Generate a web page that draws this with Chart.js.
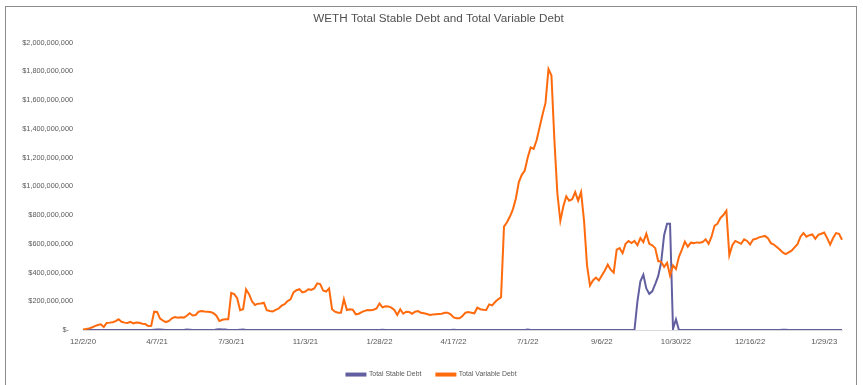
<!DOCTYPE html>
<html>
<head>
<meta charset="utf-8">
<script src="https://cdn.jsdelivr.net/npm/chart.js@4.4.1/dist/chart.umd.min.js"></script>
<style>
  html, body { margin: 0; padding: 0; background: #ffffff; }
  #wrap { position: relative; width: 863px; height: 385px; overflow: hidden; }
  #frame { position: absolute; left: 5px; top: 6px; width: 852px; height: 400px; border: 1px solid #8c8c8c; box-sizing: border-box; pointer-events: none; }
  canvas { position: absolute; left: 0; top: 0; }
</style>
</head>
<body>
<div id="wrap">
  <canvas id="c" width="863" height="388"></canvas>
  <div id="frame"></div>
</div>
<script>
// Tick labels shown on the x axis (one every 25 observations)
const tickLabels = ['12/2/20', '4/7/21', '7/30/21', '11/3/21', '1/28/22', '4/17/22', '7/1/22', '9/6/22', '10/30/22', '12/16/22', '1/29/23'];
const pointsPerTick = 25;

// Total Variable Debt, in millions of USD
const variableDebt = [
  5, 8, 12, 18, 28, 35, 40, 22, 50, 52,
  55, 62, 75, 58, 52, 50, 58, 47, 52, 51,
  44, 42, 28, 30, 128, 126, 80, 66, 56, 64,
  82, 91, 86, 90, 87, 100, 117, 102, 105, 128,
  133, 130, 128, 126, 118, 100, 63, 72, 75, 75,
  258, 250, 222, 138, 145, 284, 250, 200, 175, 184,
  185, 190, 138, 133, 130, 140, 150, 170, 180, 202,
  214, 262, 277, 284, 262, 268, 284, 280, 290, 325,
  320, 275, 268, 290, 145, 128, 121, 121, 215, 140,
  145, 142, 110, 114, 125, 134, 140, 138, 142, 150,
  185, 158, 166, 165, 156, 140, 105, 145, 114, 128,
  126, 114, 128, 132, 120, 117, 112, 105, 108, 110,
  112, 114, 120, 121, 110, 88, 82, 82, 98, 121,
  125, 121, 117, 156, 145, 142, 140, 179, 172, 195,
  214, 228, 720, 750, 790, 840, 915, 1030, 1080, 1110,
  1200, 1270, 1260, 1320, 1410, 1500, 1580, 1815, 1770, 1320,
  950, 760, 860, 930, 900, 910, 960, 900, 960, 760,
  450, 310, 345, 365, 345, 380, 415, 455, 420, 400,
  560, 570, 535, 600, 620, 605, 620, 590, 640, 612,
  670, 600, 590, 570, 480, 475, 440, 468, 380, 450,
  424, 510, 560, 615, 580, 608, 605, 610, 608, 612,
  632, 600, 650, 725, 740, 780, 800, 830, 520, 590,
  620, 610, 600, 632, 620, 595, 630, 635, 645, 650,
  655, 640, 605, 595, 578, 560, 540, 528, 540, 552,
  575, 598, 650, 675, 650, 660, 665, 635, 662, 670,
  678, 640, 595, 640, 675, 670, 628
];

// Total Stable Debt, in millions of USD
const stableDebt = [
  0, 0, 0, 0, 0, 0, 0, 0, 0, 0,
  0, 0, 0, 0, 0, 0, 0, 0, 0, 0,
  0, 0, 0, 0, 3, 4, 4, 3, 0, 0,
  0, 0, 0, 0, 0, 4, 3, 0, 0, 0,
  0, 0, 0, 0, 0, 5, 6, 5, 4, 0,
  0, 0, 0, 3, 4, 0, 0, 0, 0, 0,
  0, 0, 0, 0, 0, 0, 0, 0, 0, 0,
  0, 0, 0, 0, 0, 0, 0, 0, 0, 0,
  0, 0, 0, 0, 0, 0, 0, 0, 0, 0,
  0, 0, 0, 0, 0, 0, 0, 0, 0, 0,
  0, 3, 0, 0, 0, 0, 0, 0, 0, 0,
  0, 0, 0, 0, 0, 0, 0, 0, 0, 0,
  0, 0, 0, 0, 0, 3, 0, 0, 0, 0,
  0, 0, 0, 0, 0, 0, 0, 0, 0, 0,
  0, 0, 0, 0, 0, 0, 0, 0, 0, 0,
  4, 0, 0, 0, 0, 0, 0, 0, 0, 0,
  0, 0, 0, 0, 0, 0, 0, 0, 0, 0,
  0, 0, 0, 0, 0, 0, 0, 0, 0, 0,
  0, 0, 0, 0, 0, 0, 0, 200, 340, 385,
  290, 252, 270, 320, 375, 470, 660, 740, 740, 8,
  75, 0, 0, 0, 0, 0, 0, 0, 0, 0,
  0, 0, 0, 0, 0, 0, 0, 0, 0, 0,
  0, 0, 0, 0, 0, 0, 0, 0, 0, 0,
  0, 0, 0, 0, 0, 0, 3, 3, 0, 0,
  0, 0, 0, 0, 0, 0, 0, 0, 0, 0,
  0, 0, 0, 0, 0, 0, 0
];

const yTickStep = 200;   // millions
const yMax = 2000;       // millions

// Category labels: a date label at every tick position, blank otherwise
const categories = variableDebt.map((_, i) => (i % pointsPerTick === 0 && tickLabels[i / pointsPerTick]) ? tickLabels[i / pointsPerTick] : '');

const FONT = "'Liberation Sans', Arial, sans-serif";
const TEXT = '#595959';

function money(vM) {
  if (vM === 0) return '$-  ';
  const s = String(Math.round(vM * 1e6)).replace(/\B(?=(\d{3})+(?!\d))/g, ',');
  return '$' + s;
}

// Nudge the title block slightly right, as in the reference layout
const titleShift = {
  id: 'titleShift',
  afterLayout(chart) {
    const t = chart.titleBlock;
    if (t) { t.left += 14; }
  }
};

new Chart(document.getElementById('c'), {
  type: 'line',
  data: {
    labels: categories,
    datasets: [
      {
        label: 'Total Stable Debt',
        data: stableDebt,
        borderColor: '#625FA0',
        backgroundColor: '#625FA0',
        borderWidth: 2,
        pointRadius: 0,
        tension: 0,
        order: 1
      },
      {
        label: 'Total Variable Debt',
        data: variableDebt,
        borderColor: '#FF6A0D',
        backgroundColor: '#FF6A0D',
        borderWidth: 2,
        pointRadius: 0,
        tension: 0,
        order: 0
      }
    ]
  },
  plugins: [titleShift],
  options: {
    responsive: false,
    animation: false,
    layout: { padding: { left: 0, right: 0, top: 0, bottom: 0 } },
    plugins: {
      title: {
        display: true,
        text: 'WETH Total Stable Debt and Total Variable Debt',
        color: '#505050',
        font: { family: FONT, size: 11.7, weight: 'normal' },
        padding: { top: 12, bottom: 16.5 }
      },
      legend: {
        display: true,
        position: 'bottom',
        labels: {
          color: TEXT,
          font: { family: FONT, size: 6.9 },
          boxWidth: 19,
          boxHeight: 2,
          padding: 15,
          sort: (a, b) => a.datasetIndex - b.datasetIndex
        }
      },
      tooltip: { enabled: false }
    },
    scales: {
      x: {
        type: 'category',
        offset: false,
        grid: { display: false, drawTicks: false },
        border: { display: true, color: '#d9d9d9', width: 1 },
        ticks: {
          autoSkip: false,
          maxRotation: 0,
          minRotation: 0,
          padding: 7,
          color: TEXT,
          font: { family: FONT, size: 7.8 },
          callback: function (value, index) { return categories[index]; }
        },
        afterFit: function (scale) { scale.height = 26; }
      },
      y: {
        min: 0,
        max: yMax,
        grid: { display: false, drawTicks: false },
        border: { display: false },
        ticks: {
          stepSize: yTickStep,
          padding: 10,
          color: TEXT,
          font: { family: FONT, size: 7.3 },
          callback: function (v) { return money(v); }
        },
        afterFit: function (scale) { scale.width = 83; }
      },
      yRightSpace: {
        position: 'right',
        display: true,
        min: 0,
        max: yMax,
        grid: { display: false, drawTicks: false },
        border: { display: false },
        ticks: { display: false },
        afterFit: function (scale) { scale.width = 21; }
      }
    }
  }
});
</script>
</body>
</html>
